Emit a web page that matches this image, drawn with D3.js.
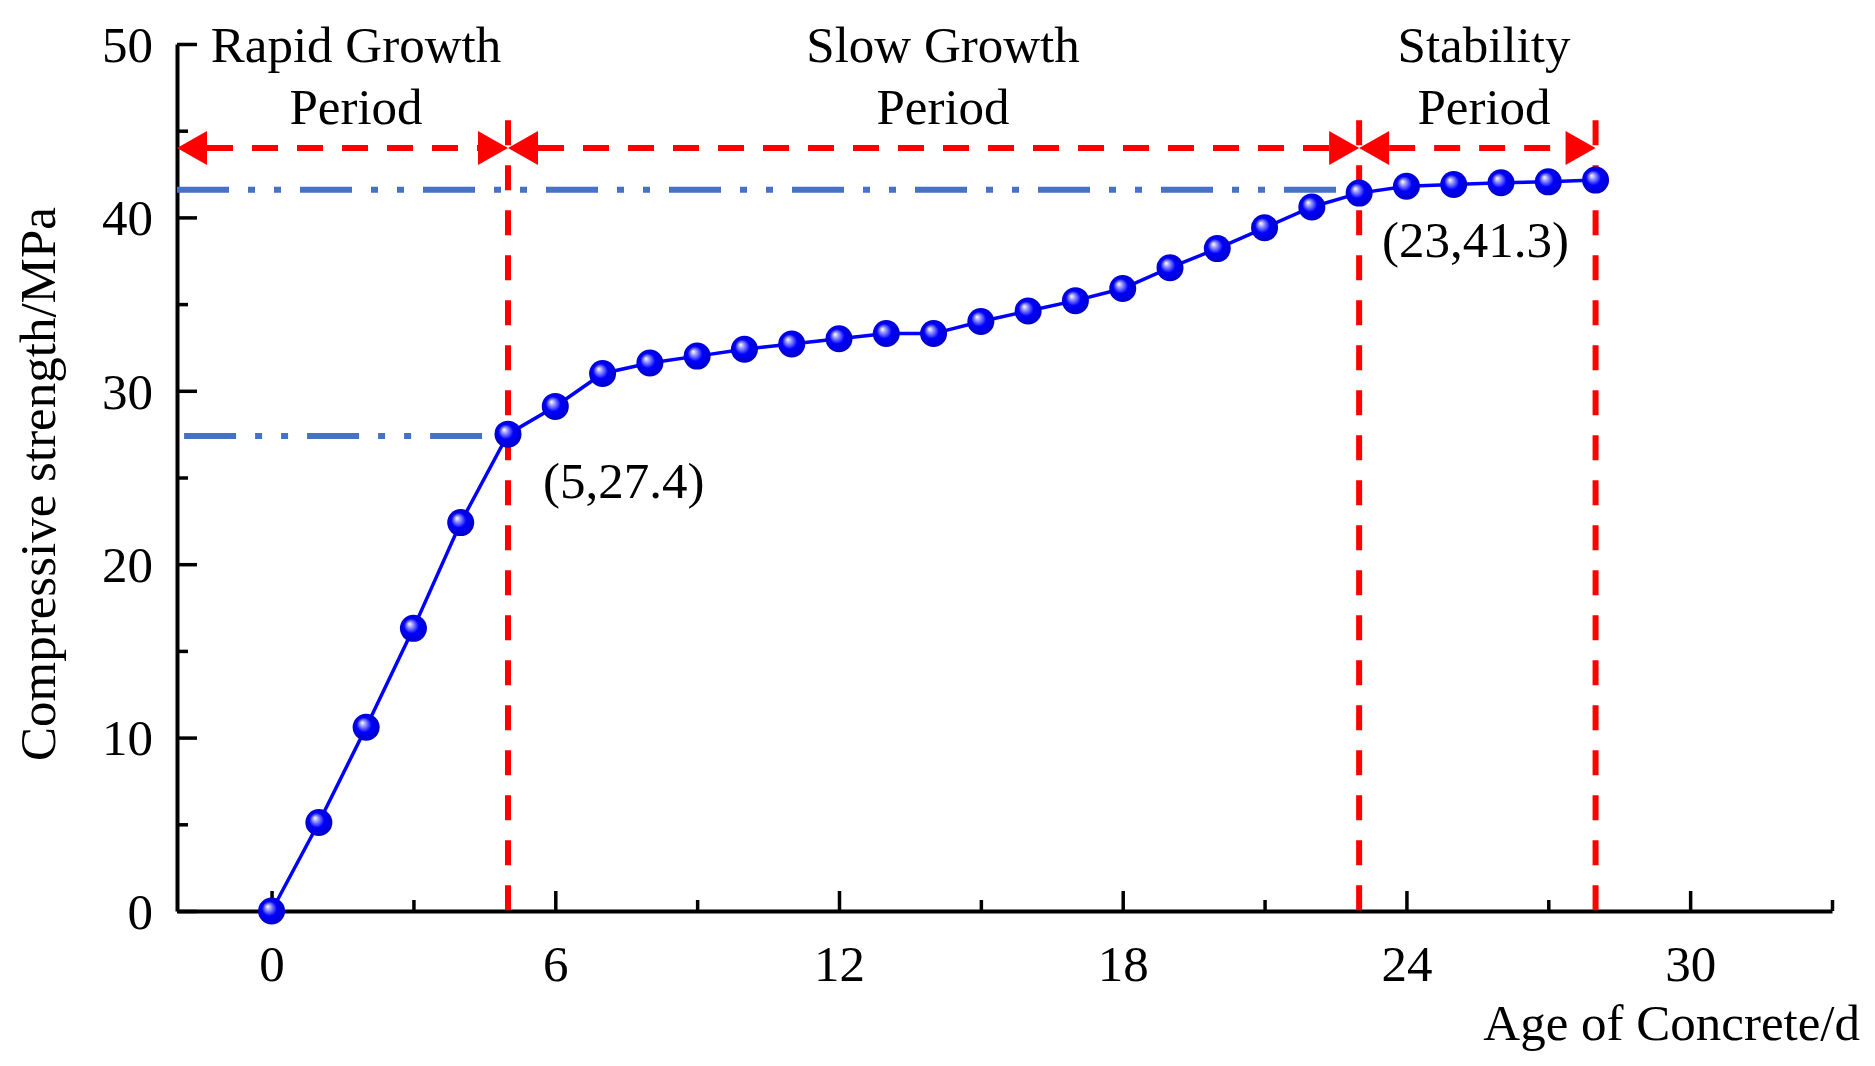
<!DOCTYPE html>
<html>
<head>
<meta charset="utf-8">
<script src="https://cdn.jsdelivr.net/npm/d3@7"></script>
<style>
  html, body { margin: 0; padding: 0; background: #fff; }
  svg { display: block; }
  text { font-family: "Liberation Serif", "Times New Roman", serif; fill: #000; }
</style>
</head>
<body>
<svg id="chart" width="1875" height="1066"></svg>
<script>
// ---- data ----
const ages = [0,1,2,3,4,5,6,7,8,9,10,11,12,13,14,15,16,17,18,19,20,21,22,23,24,25,26,27,28];
const strength = [0,5.1,10.6,16.3,22.4,27.5,29.1,31.0,31.6,32.0,32.4,32.7,33.0,33.3,33.3,34.0,34.6,35.2,35.9,37.1,38.2,39.4,40.6,41.4,41.8,41.9,42.0,42.05,42.15];
const xTicks = [0,6,12,18,24,30];
const xMinorTicks = [3,9,15,21,27,33];
const yTicks = [0,10,20,30,40,50];
const yMinorTicks = [5,15,25,35,45];
const periodBounds = [5,23,28];
const periods = [
  {name: ["Rapid Growth","Period"], from: -2, to: 5},
  {name: ["Slow Growth","Period"], from: 5, to: 23},
  {name: ["Stability","Period"], from: 23, to: 28}
];
const refLines = [
  {y: 41.6, from: -2, to: 22.8},
  {y: 27.4, from: -1.85, to: 5}
];
const annotations = [
  {text: "(5,27.4)", x: 5, y: 27.4},
  {text: "(23,41.3)", x: 23, y: 41.3}
];
const xTitle = "Age of Concrete/d";
const yTitle = "Compressive strength/MPa";

// ---- scales ----
const svg = d3.select("#chart");
const x = d3.scaleLinear().domain([-2, 33]).range([177, 1832]);
const y = d3.scaleLinear().domain([0, 50]).range([911, 44]);
const FS = 51;

// defs
const defs = svg.append("defs");
const grad = defs.append("radialGradient").attr("id","sphere")
  .attr("cx","50%").attr("cy","50%").attr("r","55%").attr("fx","35%").attr("fy","33%");
grad.append("stop").attr("offset","0%").attr("stop-color","#ffffff");
grad.append("stop").attr("offset","22%").attr("stop-color","#8c8cff");
grad.append("stop").attr("offset","50%").attr("stop-color","#0000ff");
grad.append("stop").attr("offset","100%").attr("stop-color","#0000c0");

// ---- axes ----
const xAxis = svg.append("g").attr("transform", `translate(0,${y(0)})`)
  .call(d3.axisBottom(x).tickValues(xTicks).tickSize(-20).tickSizeOuter(0).tickFormat(d3.format("d")));
const xMinor = svg.append("g").attr("transform", `translate(0,${y(0)})`)
  .call(d3.axisBottom(x).tickValues(xMinorTicks).tickSize(-11).tickSizeOuter(0).tickFormat(""));
xMinor.select(".domain").remove();
xAxis.select(".domain").attr("stroke-width", 4).attr("stroke", "#000");
xAxis.selectAll(".tick line").attr("stroke-width", 3.5);
xMinor.selectAll(".tick line").attr("stroke-width", 3.5);
xAxis.selectAll(".tick text").attr("font-size", FS).attr("y", 34).attr("dy", "0.71em")
  .style("font-family", "Liberation Serif");

const yAxis = svg.append("g").attr("transform", `translate(${x(-2)},0)`)
  .call(d3.axisLeft(y).tickValues(yTicks).tickSize(-20).tickSizeOuter(0).tickFormat(d3.format("d")));
const yMinor = svg.append("g").attr("transform", `translate(${x(-2)},0)`)
  .call(d3.axisLeft(y).tickValues(yMinorTicks).tickSize(-11).tickSizeOuter(0).tickFormat(""));
yMinor.select(".domain").remove();
yAxis.select(".domain").attr("stroke-width", 4);
yAxis.selectAll(".tick line").attr("stroke-width", 3.5);
yMinor.selectAll(".tick line").attr("stroke-width", 3.5);
yAxis.selectAll(".tick text").attr("font-size", FS).attr("x", -24).attr("dy", "0.34em")
  .style("font-family", "Liberation Serif");
svg.selectAll(".tick text").attr("fill", "#000");

// axis titles
svg.append("text").attr("x", 1860).attr("y", 1040).attr("text-anchor", "end")
  .attr("font-size", FS).text(xTitle);
svg.append("text").attr("transform", `translate(55,484) rotate(-90)`)
  .attr("text-anchor", "middle").attr("font-size", FS).text(yTitle);

// ---- reference lines (blue dash-dot-dot) ----
svg.append("g").selectAll("line").data(refLines).join("line")
  .attr("x1", d => x(d.from)).attr("x2", d => x(d.to))
  .attr("y1", d => y(d.y)).attr("y2", d => y(d.y))
  .attr("stroke", "#4472c4").attr("stroke-width", 6)
  .attr("stroke-dasharray", "52 19 7 19 7 19");

// ---- red vertical dashed boundaries ----
const topY = 45.6;
svg.append("g").selectAll("line").data(periodBounds).join("line")
  .attr("x1", d => x(d)).attr("x2", d => x(d))
  .attr("y1", y(topY)).attr("y2", y(0))
  .attr("stroke", "#ff0000").attr("stroke-width", 6)
  .attr("stroke-dasharray", "25 20");

// ---- red arrows ----
const arrowY = 44;
const aL = 30, aH = 17;
const arrowG = svg.append("g");
periods.forEach(p => {
  const x1 = x(p.from), x2 = x(p.to), yy = y(arrowY);
  arrowG.append("line").attr("x1", x1 + aL).attr("x2", x2 - aL).attr("y1", yy).attr("y2", yy)
    .attr("stroke", "#ff0000").attr("stroke-width", 6).attr("stroke-dasharray", "26 19");
  arrowG.append("path").attr("d", `M${x1},${yy} L${x1+aL},${yy-aH} L${x1+aL},${yy+aH} Z`).attr("fill", "#ff0000");
  arrowG.append("path").attr("d", `M${x2},${yy} L${x2-aL},${yy-aH} L${x2-aL},${yy+aH} Z`).attr("fill", "#ff0000");
});

// period labels
const labelCenters = [356, 943, 1484];
periods.forEach((p, i) => {
  const t = svg.append("text").attr("text-anchor", "middle").attr("font-size", FS);
  t.append("tspan").attr("x", labelCenters[i]).attr("y", 62).text(p.name[0]);
  t.append("tspan").attr("x", labelCenters[i]).attr("y", 124).text(p.name[1]);
});

// ---- data line ----
const pts = ages.map((a, i) => [a, strength[i]]);
svg.append("path").datum(pts)
  .attr("d", d3.line().x(d => x(d[0])).y(d => y(d[1])))
  .attr("fill", "none").attr("stroke", "#0000ff").attr("stroke-width", 3.5);
svg.append("g").selectAll("circle").data(pts).join("circle")
  .attr("cx", d => x(d[0])).attr("cy", d => y(d[1])).attr("r", 13.5)
  .attr("fill", "url(#sphere)");

// ---- annotations ----
svg.append("text").attr("x", 543).attr("y", 498).attr("font-size", FS).text(annotations[0].text);
svg.append("text").attr("x", 1382).attr("y", 257).attr("font-size", FS).text(annotations[1].text);
</script>
</body>
</html>
